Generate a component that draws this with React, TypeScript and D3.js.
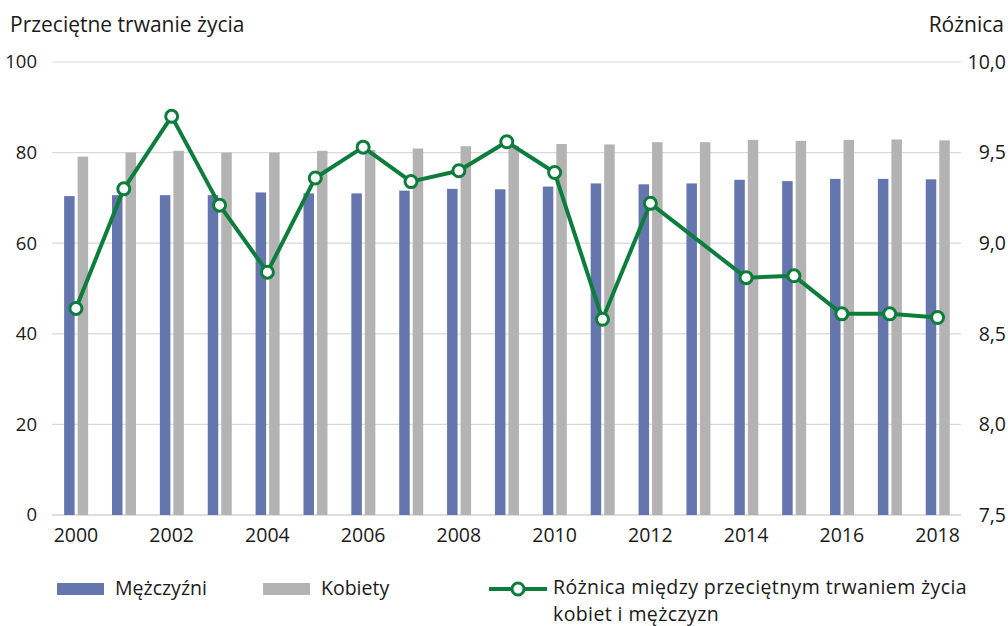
import React from 'react';
import * as d3 from 'd3';

const years = [2000, 2001, 2002, 2003, 2004, 2005, 2006, 2007, 2008, 2009, 2010, 2011, 2012, 2013, 2014, 2015, 2016, 2017, 2018];
const men = [70.4, 70.6, 70.6, 70.6, 71.2, 71.0, 71.0, 71.6, 72.0, 71.9, 72.5, 73.2, 73.0, 73.2, 74.0, 73.7, 74.2, 74.2, 74.1];
const women = [79.1, 80.0, 80.4, 80.0, 80.0, 80.4, 80.6, 80.9, 81.4, 81.5, 81.9, 81.8, 82.3, 82.3, 82.8, 82.6, 82.8, 82.9, 82.7];
// 2013 has no marker in the source, the line goes straight from 2012 to 2014
const diff: (number | null)[] = [8.64, 9.3, 9.7, 9.21, 8.84, 9.36, 9.53, 9.34, 9.4, 9.56, 9.39, 8.58, 9.22, null, 8.81, 8.82, 8.61, 8.61, 8.59];
const leftTicks = [0, 20, 40, 60, 80, 100];
const rightTicks = [7.5, 8, 8.5, 9, 9.5, 10];

const W = 1008;
const H = 626;
const FONT = "'Open Sans', 'Noto Sans', sans-serif";
const BLUE = '#6576ae';
const GRAY = '#b3b3b3';
const GREEN = '#0d7d3c';
const TXT = '#1a1a1a';

const App: React.FC = () => {
  const ref = React.useRef<SVGSVGElement>(null);

  React.useEffect(() => {
    const svg = d3.select(ref.current);
    svg.selectAll('*').remove();

    const x = d3.scaleBand<number>().domain(years).range([52, 961.5]);
    const yL = d3.scaleLinear().domain([0, 100]).range([515, 62]);
    const yR = d3.scaleLinear().domain([7.5, 10]).range([515, 62]);
    const cx = (d: number) => x(d)! + x.bandwidth() / 2;

    // grid
    svg
      .append('g')
      .selectAll('line')
      .data(leftTicks)
      .enter()
      .append('line')
      .attr('x1', 52)
      .attr('x2', 961)
      .attr('y1', (d) => yL(d))
      .attr('y2', (d) => yL(d))
      .attr('stroke', (d) => (d === 0 ? '#bdbdbd' : '#d9d9d9'))
      .attr('stroke-width', 1.2);

    svg
      .append('g')
      .selectAll('text')
      .data(leftTicks)
      .enter()
      .append('text')
      .attr('x', 37)
      .attr('y', (d) => yL(d))
      .attr('dy', '0.35em')
      .attr('text-anchor', 'end')
      .attr('font-family', FONT)
      .attr('font-size', 18.5)
      .attr('fill', TXT)
      .text((d) => d);

    svg
      .append('g')
      .selectAll('text')
      .data(rightTicks)
      .enter()
      .append('text')
      .attr('x', 1006)
      .attr('y', (d) => yR(d))
      .attr('dy', '0.35em')
      .attr('text-anchor', 'end')
      .attr('font-family', FONT)
      .attr('font-size', 19.5)
      .attr('fill', TXT)
      .text((d) => d3.format('.1f')(d).replace('.', ','));

    svg
      .append('g')
      .selectAll('text')
      .data(years.filter((d) => d % 2 === 0))
      .enter()
      .append('text')
      .attr('x', (d) => cx(d))
      .attr('y', 542)
      .attr('text-anchor', 'middle')
      .attr('font-family', FONT)
      .attr('font-size', 19.5)
      .attr('fill', TXT)
      .text((d) => d);

    // bars
    const bw = 10.5;
    svg
      .append('g')
      .selectAll('rect')
      .data(years)
      .enter()
      .append('rect')
      .attr('x', (d) => cx(d) - bw - 1.3)
      .attr('y', (_, i) => yL(men[i]))
      .attr('width', bw)
      .attr('height', (_, i) => yL(0) - yL(men[i]))
      .attr('fill', BLUE);

    svg
      .append('g')
      .selectAll('rect')
      .data(years)
      .enter()
      .append('rect')
      .attr('x', (d) => cx(d) + 1.7)
      .attr('y', (_, i) => yL(women[i]))
      .attr('width', bw)
      .attr('height', (_, i) => yL(0) - yL(women[i]))
      .attr('fill', GRAY);

    // difference line
    const pts = years
      .map((yr, i) => ({ yr, v: diff[i] }))
      .filter((p) => p.v !== null) as { yr: number; v: number }[];

    const line = d3
      .line<{ yr: number; v: number }>()
      .x((d) => cx(d.yr))
      .y((d) => yR(d.v));

    svg
      .append('path')
      .datum(pts)
      .attr('d', line)
      .attr('fill', 'none')
      .attr('stroke', GREEN)
      .attr('stroke-width', 4)
      .attr('stroke-linejoin', 'round');

    svg
      .append('g')
      .selectAll('circle')
      .data(pts)
      .enter()
      .append('circle')
      .attr('cx', (d) => cx(d.yr))
      .attr('cy', (d) => yR(d.v))
      .attr('r', 6)
      .attr('fill', '#fff')
      .attr('stroke', GREEN)
      .attr('stroke-width', 3);

    // titles
    svg
      .append('text')
      .attr('x', 10)
      .attr('y', 32)
      .attr('font-family', FONT)
      .attr('font-size', 21)
      .attr('fill', TXT)
      .text('Przeciętne trwanie życia');

    svg
      .append('text')
      .attr('x', 1004)
      .attr('y', 32)
      .attr('text-anchor', 'end')
      .attr('font-family', FONT)
      .attr('font-size', 21)
      .attr('fill', TXT)
      .text('Różnica');

    // legend
    const lg = svg.append('g').attr('font-family', FONT).attr('font-size', 19.5).attr('fill', TXT);
    lg.append('rect').attr('x', 57).attr('y', 583).attr('width', 47).attr('height', 12).attr('fill', BLUE);
    lg.append('text').attr('x', 115).attr('y', 595).text('Mężczyźni');
    lg.append('rect').attr('x', 263).attr('y', 583).attr('width', 47).attr('height', 12).attr('fill', GRAY);
    lg.append('text').attr('x', 321).attr('y', 595).text('Kobiety');
    lg.append('line')
      .attr('x1', 489)
      .attr('x2', 547)
      .attr('y1', 589)
      .attr('y2', 589)
      .attr('stroke', GREEN)
      .attr('stroke-width', 4);
    lg.append('circle')
      .attr('cx', 518)
      .attr('cy', 589)
      .attr('r', 6)
      .attr('fill', '#fff')
      .attr('stroke', GREEN)
      .attr('stroke-width', 3);
    lg.append('text')
      .attr('x', 553)
      .attr('y', 594)
      .attr('letter-spacing', 0.4)
      .text('Różnica między przeciętnym trwaniem życia');
    lg.append('text').attr('x', 553).attr('y', 621).attr('letter-spacing', 0.4).text('kobiet i mężczyzn');
  }, []);

  return (
    <svg
      ref={ref}
      width={W}
      height={H}
      style={{ position: 'absolute', left: 0, top: 0, background: '#fff' }}
    />
  );
};

export default App;
